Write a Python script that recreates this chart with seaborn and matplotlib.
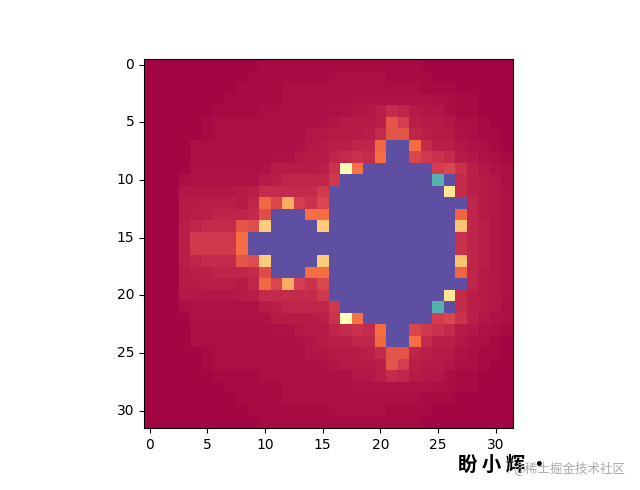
import numpy as np
import matplotlib
matplotlib.use('Agg')
import matplotlib.pyplot as plt
import seaborn as sns

# iteration share per cell (100 = inside the set)
counts = [
 [1,1,1,1,1,1,1,1,1,1,1.7,1.7,1.7,1.7,1.7,1.7,1.7,1.7,1.7,1.7,1.7,1.7,1.7,1.7,1,1,1,1,1,1,1,1],
 [1,1,1,1,1,1,1,1,1,1.7,1.7,1.7,1.7,1.7,1.7,1.7,2.4,2.4,2.4,2.4,2.4,1.7,1.7,1.7,1.7,1,1,1,1,1,1,1],
 [1,1,1,1,1,1,1,1,1.7,1.7,1.7,1.7,2.4,2.4,2.4,2.4,2.4,2.4,2.4,2.4,2.4,2.4,2.4,2.4,1.7,1.7,1.7,1,1,1,1,1],
 [1,1,1,1,1,1,1,1.7,1.7,1.7,1.7,1.7,2.4,2.4,2.4,2.4,2.4,2.4,3,3,3,3,3,3,3,2.4,2.4,1.7,1.7,1,1,1],
 [1,1,1,1,1,1,1.7,1.7,1.7,1.7,2.4,2.4,2.4,2.4,2.4,2.4,3,3,3.6,3.6,5,7,6,4.3,3.6,3.6,2.4,1.7,1.7,1,1,1],
 [1,1,1,1,1,1.7,2.4,2.4,2.4,2.4,2.4,2.4,2.4,2.4,2.4,3,3.6,4.3,4.3,4.3,5,15,10,5,4.3,4.3,3.6,2.4,2.4,1.7,1,1],
 [1,1,1,1,1,1.7,2.4,2.4,2.4,2.4,2.4,2.4,2.4,2.4,3.6,3.6,4.3,4.3,4.3,5,7,15,15,6,5,4.3,4.3,3,2.4,1.7,1.7,1],
 [1,1,1,1,2.4,2.4,2.4,2.4,2.4,2.4,2.4,2.4,2.4,3,3.6,4.3,5,5,6,6,19,100,100,20,7,5,5,3.6,3,2.4,1.7,1],
 [1,1,1,1,2.4,2.4,2.4,2.4,2.4,2.4,2.4,3,3,3.6,4.3,4.3,6,7,8,7,20,100,100,12,9,8,7,4.3,3.6,3,2.4,1.7],
 [1,1,1,1,3,3,3,3,3,3,3,4.3,4.3,4.3,4.3,5,8,52,21,100,100,100,100,100,100,10,12,8,5,3.6,3,2.4],
 [1,1,1,2.4,3,3,3,3,3,3,4.3,5,6,6,6,6,9,100,100,100,100,100,100,100,100,83,100,7,5,4.3,3.6,2.4],
 [1,1,1,3.6,3.6,3.6,3.6,3.6,4.3,5,7,7,7,7,7,9,100,100,100,100,100,100,100,100,100,100,42,7,5,4.3,3.6,3],
 [1,1,1,4.3,4.3,5,5,5,4.3,6,19,12,30,10,8,12,100,100,100,100,100,100,100,100,100,100,100,100,6,4.3,3.6,3],
 [1,1,1,4.3,5,5,6,6,6,7,13,100,100,100,20,20,100,100,100,100,100,100,100,100,100,100,100,18,6,4.3,3.6,3],
 [1,1,1,5,6,7,7,7,15,13,36,100,100,100,100,36,100,100,100,100,100,100,100,100,100,100,100,34,6,5,3.6,3],
 [1,1,1,5,9,9,9,9,20,100,100,100,100,100,100,100,100,100,100,100,100,100,100,100,100,100,100,8,6,5,3.6,3],
 [1,1,1,5,9,9,9,9,20,100,100,100,100,100,100,100,100,100,100,100,100,100,100,100,100,100,100,8,6,5,3.6,3],
 [1,1,1,5,6,7,7,7,15,13,36,100,100,100,100,36,100,100,100,100,100,100,100,100,100,100,100,34,6,5,3.6,3],
 [1,1,1,4.3,5,5,6,6,6,7,13,100,100,100,20,20,100,100,100,100,100,100,100,100,100,100,100,18,6,4.3,3.6,3],
 [1,1,1,4.3,4.3,5,5,5,4.3,6,19,12,30,10,8,12,100,100,100,100,100,100,100,100,100,100,100,100,6,4.3,3.6,3],
 [1,1,1,3.6,3.6,3.6,3.6,3.6,4.3,5,7,7,7,7,7,9,100,100,100,100,100,100,100,100,100,100,42,7,5,4.3,3.6,3],
 [1,1,1,2.4,3,3,3,3,3,3,4.3,5,6,6,6,6,9,100,100,100,100,100,100,100,100,83,100,7,5,4.3,3.6,2.4],
 [1,1,1,1,3,3,3,3,3,3,3,4.3,4.3,4.3,4.3,5,8,52,21,100,100,100,100,100,100,10,12,8,5,3.6,3,2.4],
 [1,1,1,1,2.4,2.4,2.4,2.4,2.4,2.4,2.4,3,3,3.6,4.3,4.3,6,7,8,7,20,100,100,12,9,8,7,4.3,3.6,3,2.4,1.7],
 [1,1,1,1,2.4,2.4,2.4,2.4,2.4,2.4,2.4,2.4,2.4,3,3.6,4.3,5,5,6,6,19,100,100,20,7,5,5,3.6,3,2.4,1.7,1],
 [1,1,1,1,1,1.7,2.4,2.4,2.4,2.4,2.4,2.4,2.4,2.4,3.6,3.6,4.3,4.3,4.3,5,7,15,15,6,5,4.3,4.3,3,2.4,1.7,1.7,1],
 [1,1,1,1,1,1.7,2.4,2.4,2.4,2.4,2.4,2.4,2.4,2.4,2.4,3,3.6,4.3,4.3,4.3,5,15,10,5,4.3,4.3,3.6,2.4,2.4,1.7,1,1],
 [1,1,1,1,1,1,1.7,1.7,1.7,1.7,2.4,2.4,2.4,2.4,2.4,2.4,3,3,3.6,3.6,5,7,6,4.3,3.6,3.6,2.4,1.7,1.7,1,1,1],
 [1,1,1,1,1,1,1,1.7,1.7,1.7,1.7,1.7,2.4,2.4,2.4,2.4,2.4,2.4,3,3,3,3,3,3,3,2.4,2.4,1.7,1.7,1,1,1],
 [1,1,1,1,1,1,1,1,1.7,1.7,1.7,1.7,2.4,2.4,2.4,2.4,2.4,2.4,2.4,2.4,2.4,2.4,2.4,2.4,1.7,1.7,1.7,1,1,1,1,1],
 [1,1,1,1,1,1,1,1,1,1.7,1.7,1.7,1.7,1.7,1.7,1.7,2.4,2.4,2.4,2.4,2.4,1.7,1.7,1.7,1.7,1,1,1,1,1,1,1],
 [1,1,1,1,1,1,1,1,1,1,1.7,1.7,1.7,1.7,1.7,1.7,1.7,1.7,1.7,1.7,1.7,1.7,1.7,1.7,1,1,1,1,1,1,1,1],
]
tick_labels = [0, 5, 10, 15, 20, 25, 30]

fig = plt.figure(figsize=(6.4, 4.9), dpi=100)
ax = fig.add_axes([144/640, 62/490, 369/640, 369/490])
sns.heatmap(np.array(counts), cmap='Spectral', vmin=0, vmax=100, cbar=False, ax=ax)

# cell centres sit at n+0.5 in a heatmap
ax.set_xticks(np.array(tick_labels) + 0.5)
ax.set_yticks(np.array(tick_labels) + 0.5)
ax.set_xticklabels(tick_labels, rotation=0)
ax.set_yticklabels(tick_labels, rotation=0)
ax.tick_params(length=3.5, width=0.8, labelsize=10)
for s in ax.spines.values():
    s.set_visible(True)
    s.set_linewidth(0.8)

# watermark
fig.text(458/640, 1 - 465/490, '盼 小 辉 ·', family=['Noto Sans CJK SC', 'DejaVu Sans'],
         fontsize=14, weight='bold', color='black', ha='left', va='center')
fig.text(625/640, 1 - 468/490, '@稀土掘金技术社区', family=['Noto Sans CJK SC', 'DejaVu Sans'],
         fontsize=9, color='#aaaaaa', ha='right', va='center')

fig.savefig('out.png', dpi=100)
